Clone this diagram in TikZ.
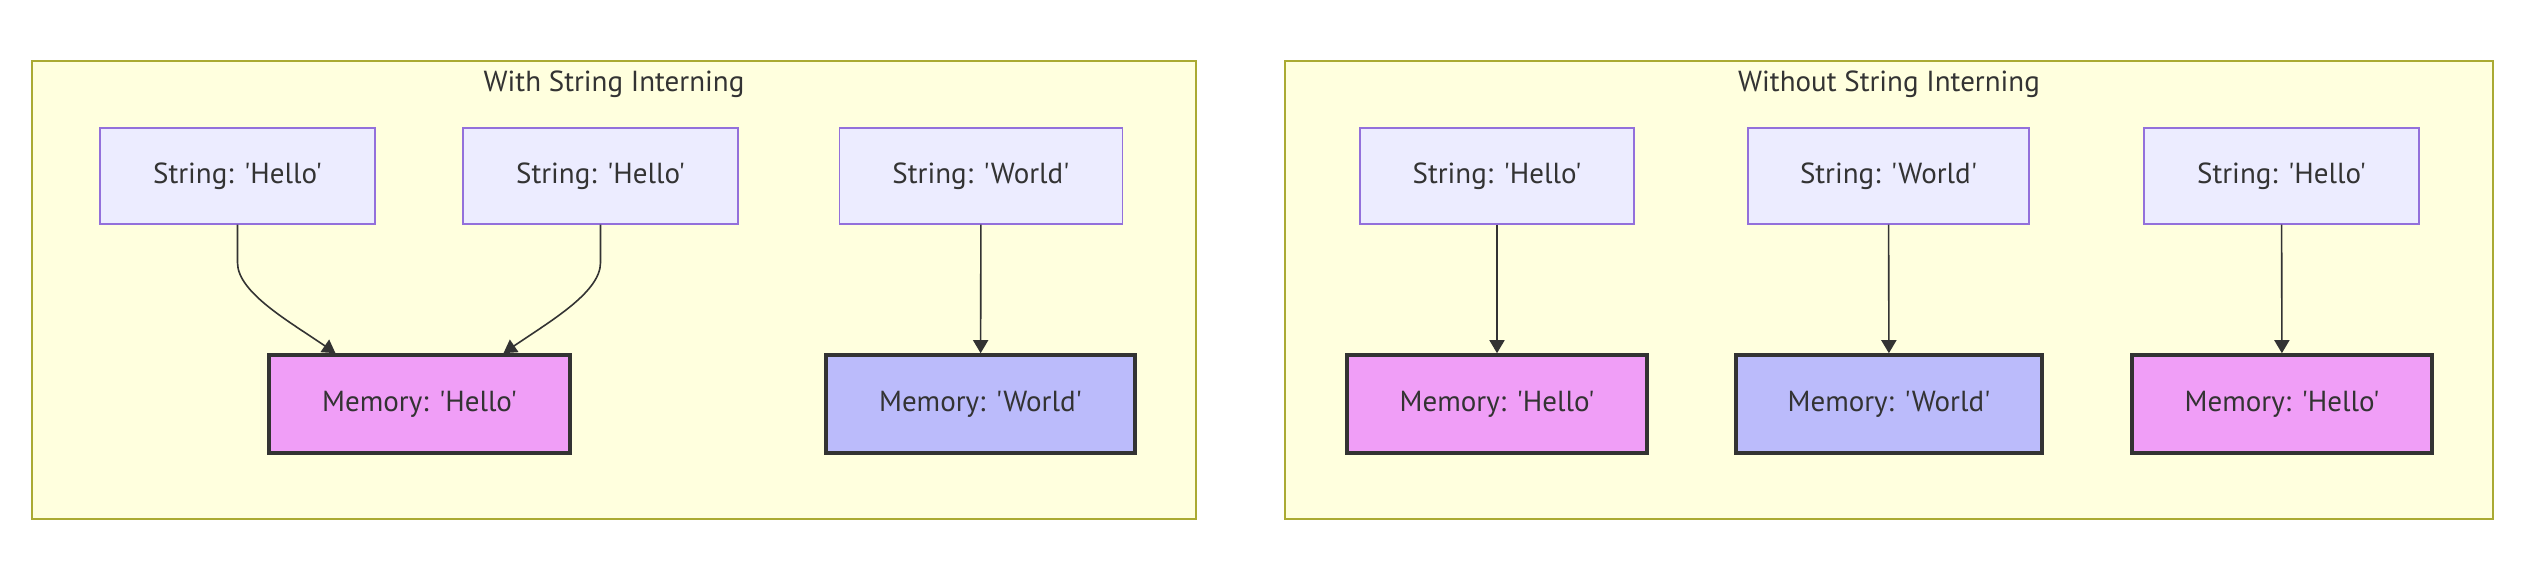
\documentclass[tikz,border=0pt]{standalone}
\usepackage{fontspec}
\setmainfont{PT Sans}[Ligatures=TeXOff]
\usetikzlibrary{arrows.meta,calc}
\definecolor{clusterfill}{HTML}{FFFFDE}
\definecolor{clusterline}{HTML}{AAAA33}
\definecolor{strfill}{HTML}{ECECFF}
\definecolor{strline}{HTML}{9370DB}
\definecolor{hellofill}{HTML}{F09EF7}
\definecolor{worldfill}{HTML}{BBBBFB}
\definecolor{darkline}{HTML}{333333}

\begin{document}
\begin{tikzpicture}[x=0.5pt,y=-0.5pt,
  every node/.style={font=\fontsize{14.5}{16}\selectfont, text=darkline},
  cluster/.style={draw=clusterline, fill=clusterfill, line width=0.7pt},
  strbox/.style={draw=strline, fill=strfill, line width=0.7pt, minimum height=48pt},
  membox/.style={draw=darkline, line width=1.8pt, minimum height=49pt},
  edge/.style={draw=darkline, line width=0.8pt, -{Triangle[length=6.5pt,width=7.5pt]}}]
\useasboundingbox (0,0) rectangle (2542,572);

% with interning
\filldraw[cluster] (32,61) rectangle (1196,519);
\node (withtitle) at (614,84) {With String Interning};
\node[strbox, minimum width=137.5pt] (hello1) at (237.5,176) {String: 'Hello'};
\node[strbox, minimum width=137.5pt] (hello2) at (600.5,176) {String: 'Hello'};
\node[strbox, minimum width=141.5pt] (world1) at (981,176) {String: 'World'};
\node[membox, fill=hellofill, minimum width=150.5pt] (memhello) at (419.5,404) {Memory: 'Hello'};
\node[membox, fill=worldfill, minimum width=154.5pt] (memworld) at (980.5,404) {Memory: 'World'};
\coordinate (hellointo1) at ($(memhello.north)+(-84,0)$);
\coordinate (hellointo2) at ($(memhello.north)+(84,0)$);
\draw[edge] (hello1.south) -- ++(0,38) .. controls +(0,30) and +(-45,-31) .. (hellointo1);
\draw[edge] (hello2.south) -- ++(0,38) .. controls +(0,30) and +(45,-31) .. (hellointo2);
\draw[edge] (world1) -- (memworld);

% without interning
\filldraw[cluster] (1285,61) rectangle (2493,519);
\node (withouttitle) at (1889,84) {Without String Interning};
\node[strbox, minimum width=137pt] (strA) at (1497,176) {String: 'Hello'};
\node[strbox, minimum width=140.5pt] (strB) at (1888.5,176) {String: 'World'};
\node[strbox, minimum width=137.5pt] (strC) at (2281.5,176) {String: 'Hello'};
\node[membox, fill=hellofill, minimum width=150pt] (memA) at (1497,404) {Memory: 'Hello'};
\node[membox, fill=worldfill, minimum width=153pt] (memB) at (1889,404) {Memory: 'World'};
\node[membox, fill=hellofill, minimum width=150pt] (memC) at (2282,404) {Memory: 'Hello'};
\foreach \col in {A,B,C}
  {
    \draw[edge] (str\col) -- (mem\col);
  }
\end{tikzpicture}
\end{document}
